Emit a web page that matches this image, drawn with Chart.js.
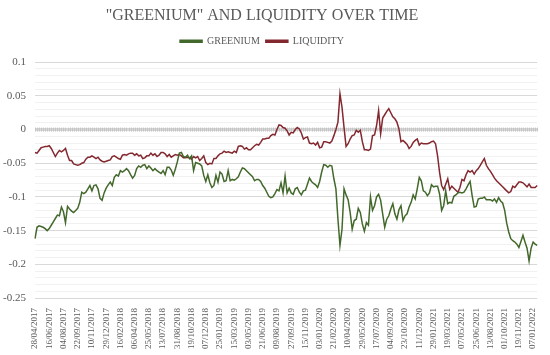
<!DOCTYPE html>
<html>
<head>
<meta charset="utf-8">
<script src="https://cdn.jsdelivr.net/npm/chart.js@4/dist/chart.umd.min.js"></script>
<style>
  html, body { margin: 0; padding: 0; background: #fff; }
  #wrap { width: 550px; height: 355px; }
</style>
</head>
<body>
<div id="wrap"><canvas id="chart"></canvas></div>
<script>
// one label every 7 weeks, as on the original axis
const tickLabels = [
  '28/04/2017', '16/06/2017', '04/08/2017', '22/09/2017', '10/11/2017', '29/12/2017',
  '16/02/2018', '06/04/2018', '25/05/2018', '13/07/2018', '31/08/2018', '19/10/2018',
  '07/12/2018', '25/01/2019', '15/03/2019', '03/05/2019', '21/06/2019', '09/08/2019',
  '27/09/2019', '15/11/2019', '03/01/2020', '21/02/2020', '10/04/2020', '29/05/2020',
  '17/07/2020', '04/09/2020', '23/10/2020', '11/12/2020', '29/01/2021', '19/03/2021',
  '07/05/2021', '25/06/2021', '13/08/2021', '01/10/2021', '19/11/2021', '07/01/2022'
];

// weekly values
const greenium = [
  -0.162, -0.145, -0.143, -0.144, -0.145, -0.147, -0.150, -0.147, -0.142, -0.137,
  -0.132, -0.127, -0.128, -0.115, -0.122, -0.138, -0.114, -0.118, -0.121, -0.123,
  -0.120, -0.117, -0.108, -0.093, -0.095, -0.093, -0.088, -0.083, -0.091, -0.083,
  -0.082, -0.088, -0.102, -0.105, -0.094, -0.087, -0.082, -0.078, -0.083, -0.071,
  -0.067, -0.069, -0.061, -0.063, -0.061, -0.058,
  -0.061, -0.067, -0.072, -0.068, -0.058, -0.054, -0.056, -0.053, -0.052, -0.058,
  -0.054, -0.057, -0.061, -0.058, -0.061, -0.063, -0.065, -0.061, -0.067, -0.056,
  -0.056, -0.060, -0.068, -0.059, -0.048, -0.035, -0.034, -0.040, -0.041, -0.038,
  -0.043, -0.039, -0.061, -0.049, -0.050, -0.051, -0.054, -0.068, -0.077, -0.067,
  -0.079, -0.086, -0.083, -0.068, -0.078, -0.063, -0.066, -0.077, -0.076,
  -0.061, -0.076, -0.074, -0.075, -0.073, -0.070, -0.063, -0.057, -0.058, -0.061,
  -0.064, -0.067, -0.070, -0.076, -0.074, -0.074, -0.077, -0.083, -0.087, -0.093,
  -0.099, -0.101, -0.100, -0.095, -0.089, -0.091, -0.079, -0.094, -0.069, -0.094,
  -0.087, -0.094, -0.096, -0.088, -0.086, -0.093, -0.097, -0.091, -0.090, -0.081,
  -0.072, -0.077, -0.080, -0.082, -0.086, -0.077, -0.063, -0.052, -0.053,
  -0.056, -0.053, -0.054, -0.073, -0.088, -0.133, -0.172, -0.148, -0.088, -0.097,
  -0.104, -0.123, -0.148, -0.135, -0.133, -0.117, -0.123, -0.140, -0.151, -0.138,
  -0.142, -0.100, -0.120, -0.113, -0.100, -0.096, -0.105, -0.125, -0.145, -0.133,
  -0.128, -0.118, -0.110, -0.125, -0.133, -0.119, -0.113, -0.135, -0.128, -0.125,
  -0.115, -0.108, -0.097, -0.103, -0.088, -0.071, -0.076, -0.091, -0.093,
  -0.098, -0.094, -0.082, -0.085, -0.084, -0.084, -0.096, -0.120, -0.113, -0.091,
  -0.110, -0.108, -0.109, -0.099, -0.097, -0.094, -0.093, -0.094, -0.093, -0.088,
  -0.082, -0.077, -0.098, -0.115, -0.114, -0.103, -0.102, -0.102, -0.100, -0.104,
  -0.104, -0.104, -0.106, -0.103, -0.108, -0.101, -0.106, -0.109, -0.120, -0.139,
  -0.152, -0.162, -0.165, -0.167, -0.170, -0.175, -0.166, -0.157, -0.167, -0.176,
  -0.195, -0.176, -0.167, -0.170, -0.172
];

const liquidity = [
  -0.034, -0.035, -0.031, -0.027, -0.026, -0.025, -0.025, -0.024, -0.028, -0.034,
  -0.040, -0.035, -0.031, -0.033, -0.031, -0.028, -0.038, -0.046, -0.046, -0.051,
  -0.052, -0.053, -0.052, -0.050, -0.049, -0.044, -0.041, -0.041, -0.039, -0.041,
  -0.043, -0.041, -0.045, -0.047, -0.048, -0.047, -0.046, -0.045, -0.040, -0.039,
  -0.041, -0.043, -0.044, -0.038, -0.037, -0.038,
  -0.036, -0.035, -0.035, -0.038, -0.036, -0.039, -0.038, -0.043, -0.042, -0.039,
  -0.039, -0.035, -0.038, -0.036, -0.040, -0.038, -0.034, -0.034, -0.036, -0.040,
  -0.037, -0.041, -0.039, -0.037, -0.038, -0.037, -0.039, -0.042, -0.042, -0.041,
  -0.042, -0.044, -0.040, -0.042, -0.040, -0.046, -0.043, -0.039, -0.049, -0.052,
  -0.050, -0.051, -0.043, -0.043, -0.039, -0.036, -0.035, -0.032, -0.034,
  -0.033, -0.034, -0.035, -0.032, -0.034, -0.025, -0.024, -0.025, -0.029, -0.027,
  -0.030, -0.030, -0.027, -0.024, -0.022, -0.023, -0.019, -0.014, -0.014, -0.013,
  -0.013, -0.009, -0.007, -0.008, 0.000, 0.007, 0.006, 0.003, 0.002, -0.002,
  -0.008, -0.004, -0.005, 0.000, 0.003, 0.001, -0.005, -0.014, -0.012, -0.011,
  -0.020, -0.021, -0.020, -0.023, -0.019, -0.027, -0.026, -0.018, -0.018,
  -0.019, -0.020, -0.017, -0.009, 0.000, 0.011, 0.053, 0.033, 0.003, -0.025,
  -0.021, -0.014, -0.009, -0.008, -0.001, -0.004, -0.001, -0.018, -0.030, -0.030,
  -0.031, -0.029, -0.009, -0.008, 0.006, 0.028, -0.006, 0.017, 0.022, 0.027,
  0.031, 0.025, 0.019, 0.016, 0.011, 0.001, -0.018, -0.016, -0.019, -0.022,
  -0.028, -0.025, -0.019, -0.016, -0.014, -0.023, -0.020, -0.021, -0.021,
  -0.021, -0.020, -0.018, -0.017, -0.021, -0.039, -0.064, -0.083, -0.089, -0.081,
  -0.073, -0.089, -0.084, -0.087, -0.090, -0.093, -0.086, -0.074, -0.076, -0.067,
  -0.061, -0.063, -0.061, -0.066, -0.061, -0.058, -0.053, -0.048, -0.043, -0.053,
  -0.058, -0.062, -0.067, -0.072, -0.076, -0.079, -0.082, -0.085, -0.088, -0.091,
  -0.094, -0.092, -0.084, -0.086, -0.082, -0.078, -0.078, -0.079, -0.082, -0.085,
  -0.081, -0.086, -0.086, -0.086, -0.083
];

const weeks = greenium.map((v, i) => String(i));
const labelEvery = 7;

// y axis: major lines every 0.05 (labelled), minor lines every 0.01
const yMin = -0.25, yMax = 0.1;
const yGridHundredths = [];
for (let h = -25; h <= 10; h++) yGridHundredths.push(h);

const serif = "'Liberation Serif', 'DejaVu Serif', serif";
const textGray = '#595959';

// Excel draws the category axis through zero, with a tick for each week
const zeroAxis = {
    id: 'zeroAxis',
    afterInit(chart) {
        // a bit more room under the legend
        const legend = chart.legend;
        if (legend) {
            const fit = legend.fit;
            legend.fit = function () { fit.call(this); this.height += 6; };
        }
    },
    afterLayout(chart) {
        // title and legend sit a little left of centre in the original
        const shift = 9;
        if (chart.titleBlock) { chart.titleBlock.left -= shift; chart.titleBlock.right -= shift; }
        if (chart.legend) { chart.legend.left -= shift; chart.legend.right -= shift; }
    },
    beforeDatasetsDraw(chart) {
        const x = chart.scales.x, y = chart.scales.y;
        const y0 = y.getPixelForValue(0);
        const ctx = chart.ctx;
        ctx.save();
        ctx.strokeStyle = '#c6c6c6';
        ctx.lineWidth = 1;
        ctx.beginPath();
        for (let i = 0; i < weeks.length; i++) {
            const px = Math.round(x.getPixelForValue(i)) + 0.5;
            ctx.moveTo(px, y0 - 2);
            ctx.lineTo(px, y0 + 2);
        }
        ctx.stroke();
        ctx.restore();
    }
};

new Chart(document.getElementById('chart'), {
    type: 'line',
    data: {
        labels: weeks,
        datasets: [
            {
                label: 'GREENIUM',
                data: greenium,
                borderColor: '#43682b',
                backgroundColor: '#43682b',
                borderWidth: 1.5,
                pointRadius: 0,
                tension: 0
            },
            {
                label: 'LIQUIDITY',
                data: liquidity,
                borderColor: '#84282f',
                backgroundColor: '#84282f',
                borderWidth: 1.5,
                pointRadius: 0,
                tension: 0
            }
        ]
    },
    options: {
        responsive: true,
        maintainAspectRatio: false,
        animation: false,
        layout: { padding: { left: 0, right: 8, top: 0, bottom: 0 } },
        plugins: {
            title: {
                display: true,
                text: '"GREENIUM" AND LIQUIDITY OVER TIME',
                color: textGray,
                font: { family: serif, size: 16, weight: 'normal' },
                padding: { top: 6, bottom: 5 }
            },
            legend: {
                position: 'top',
                labels: {
                    color: textGray,
                    font: { family: serif, size: 10 },
                    boxWidth: 22,
                    boxHeight: 2,
                    padding: 6
                }
            },
            tooltip: { enabled: false }
        },
        scales: {
            x: {
                offset: false,
                grid: { display: false },
                border: { display: false },
                ticks: {
                    autoSkip: false,
                    maxRotation: 90,
                    minRotation: 90,
                    color: textGray,
                    font: { family: serif, size: 9 },
                    padding: 2,
                    callback: (v, i) => i % labelEvery === 0 ? tickLabels[i / labelEvery] : ''
                },
                afterFit: s => { s.height = 57; }
            },
            y: {
                min: yMin,
                max: yMax,
                border: { display: false },
                grid: {
                    drawTicks: false,
                    color: c => {
                        const h = Math.round(c.tick.value * 100);
                        if (h === 0) return '#d6d6d6';
                        return h % 5 === 0 ? '#d9d9d9' : '#f1f1f1';
                    },
                    lineWidth: c => Math.round(c.tick.value * 100) === 0 ? 3 : 1
                },
                ticks: {
                    autoSkip: false,
                    color: textGray,
                    font: { family: serif, size: 11 },
                    padding: 9,
                    callback: v => {
                        const h = Math.round(v * 100);
                        return h % 5 === 0 ? String(h / 100) : '';
                    }
                },
                afterBuildTicks: s => {
                    s.ticks = yGridHundredths.map(h => ({ value: h / 100 }));
                },
                afterFit: s => { s.width = 35; }
            }
        }
    },
    plugins: [zeroAxis]
});
</script>
</body>
</html>
